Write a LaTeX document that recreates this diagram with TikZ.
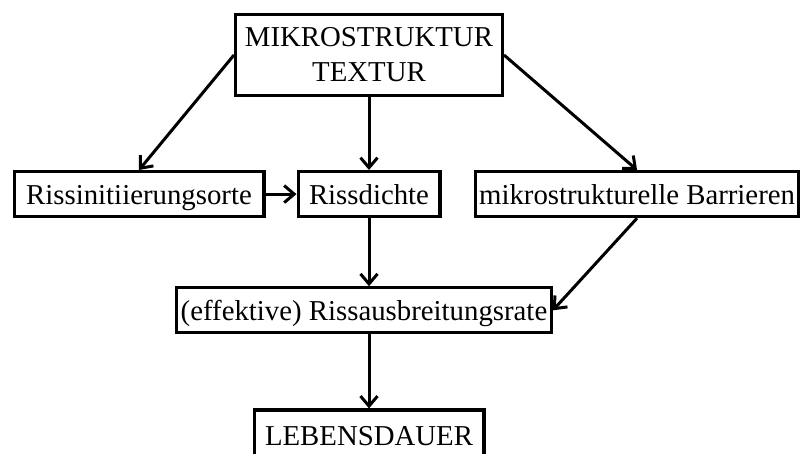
\documentclass[tikz,border=0pt]{standalone}
\usepackage{fontspec}
\setmainfont{Liberation Serif}
\usepackage{tikz}
\usetikzlibrary{arrows.meta, positioning}

\begin{document}
\begin{tikzpicture}[
    x=1pt, y=1pt,
    box/.style   = {rectangle, draw=black, line width=3.2pt,
                    fill=white, inner xsep=4pt, inner ysep=4pt,
                    minimum height=45pt,
                    text height=25pt, text depth=4pt,
                    font=\fontsize{28.8}{35}\selectfont},
    topbox/.style = {box, align=center, minimum height=80.8pt,
                     text height=, text depth=},
    arrow/.style = {-{Straight Barb[length=10pt, width=17pt,
                     line width=3pt]}, line width=3pt, black}
]
\useasboundingbox (0,0) rectangle (800,-454);

%% Top
\node[topbox, minimum width=266.8pt] (micro) at (369,-55)
    {MIKROSTRUKTUR\\TEXTUR};

%% Middle row
\node[box, minimum width=141.8pt, below=73pt of micro] (density)
    {Rissdichte};
\node[box, minimum width=249.8pt, left=31pt of density] (sites)
    {Rissinitiierungsorte};
\node[box, minimum width=318.8pt, right=32pt of density] (barriers)
    {mikrostrukturelle Barrieren};

%% Growth rate
\node[box, minimum width=361.8pt, below=68pt of density,
      xshift=-5pt] (rate)
    {(effektive) Rissausbreitungsrate};

%% Output
\node[box, minimum width=229.8pt, minimum height=50pt,
      below=74pt of rate, xshift=5pt] (life)
    {LEBENSDAUER};

%% Arrows
\draw[arrow] (micro.west)    -- (sites.north);
\draw[arrow] (micro)         -- (density);
\draw[arrow] (micro.east)    -- (barriers.north);
\draw[arrow] (sites)         -- (density);
\draw[arrow] (density)       -- (density |- rate.north);
\draw[arrow] (barriers.south) -- (rate.east);
\draw[arrow] (life |- rate.south) -- (life);
\end{tikzpicture}
\end{document}
